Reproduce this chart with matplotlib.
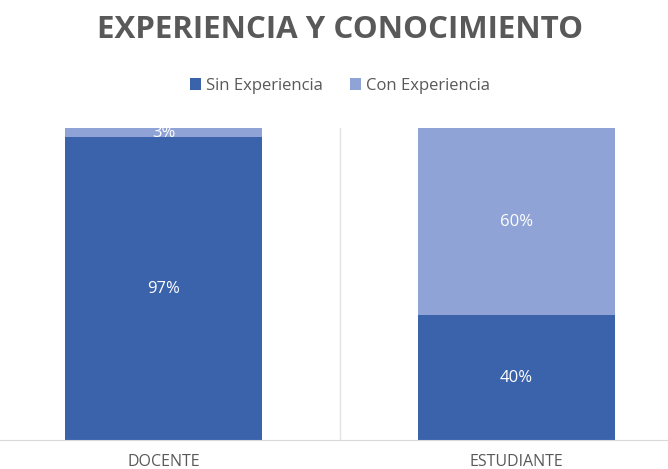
import numpy as np
import matplotlib.pyplot as plt

categorias = ["DOCENTE", "ESTUDIANTE"]
sin_exp = [97, 40]
con_exp = [3, 60]

azul = "#3a63ab"
azul_claro = "#8fa3d6"
gris = "#595959"

fig = plt.figure(figsize=(6.68, 4.69), dpi=100)
ax = fig.add_axes([-13 / 668, 29 / 469, 706 / 668, 312 / 469])

x = np.arange(len(categorias))
s = np.array(sin_exp) / 100
c = np.array(con_exp) / 100
b1 = ax.bar(x, s, width=0.56, color=azul, label="Sin Experiencia")
b2 = ax.bar(x, c, width=0.56, bottom=s, color=azul_claro, label="Con Experiencia")

for barras, vals, base in [(b1, sin_exp, np.zeros(2)), (b2, con_exp, s)]:
    for b, v, y0 in zip(barras, vals, base):
        ax.text(b.get_x() + b.get_width() / 2, y0 + v / 200, f"{v}%",
                ha="center", va="center", color="white", fontsize=12,
                family="Open Sans")

ax.set_xlim(-0.5, 1.5)
ax.set_ylim(0, 1)
ax.axvline(0.5, color="#e3e3e3", lw=1)
for lado in ["top", "right", "left"]:
    ax.spines[lado].set_visible(False)
ax.spines["bottom"].set_color("#d9d9d9")
ax.set_yticks([])
ax.set_xticks(x)
ax.set_xticklabels(categorias, color=gris, fontsize=11.5, family="Open Sans")
ax.tick_params(axis="x", length=0, pad=10)

fig.text(0.509, 0.935, "EXPERIENCIA Y CONOCIMIENTO", ha="center", va="center",
         fontsize=22.5, fontweight="bold", color=gris, family="Open Sans")
fig.legend(loc="center", bbox_to_anchor=(0.509, 0.817), ncol=2, frameon=False,
           prop={"family": "Open Sans", "size": 12}, labelcolor=gris,
           handlelength=0.65, handleheight=0.65, handletextpad=0.3, columnspacing=1.6)

fig.savefig("out.png", dpi=100)
